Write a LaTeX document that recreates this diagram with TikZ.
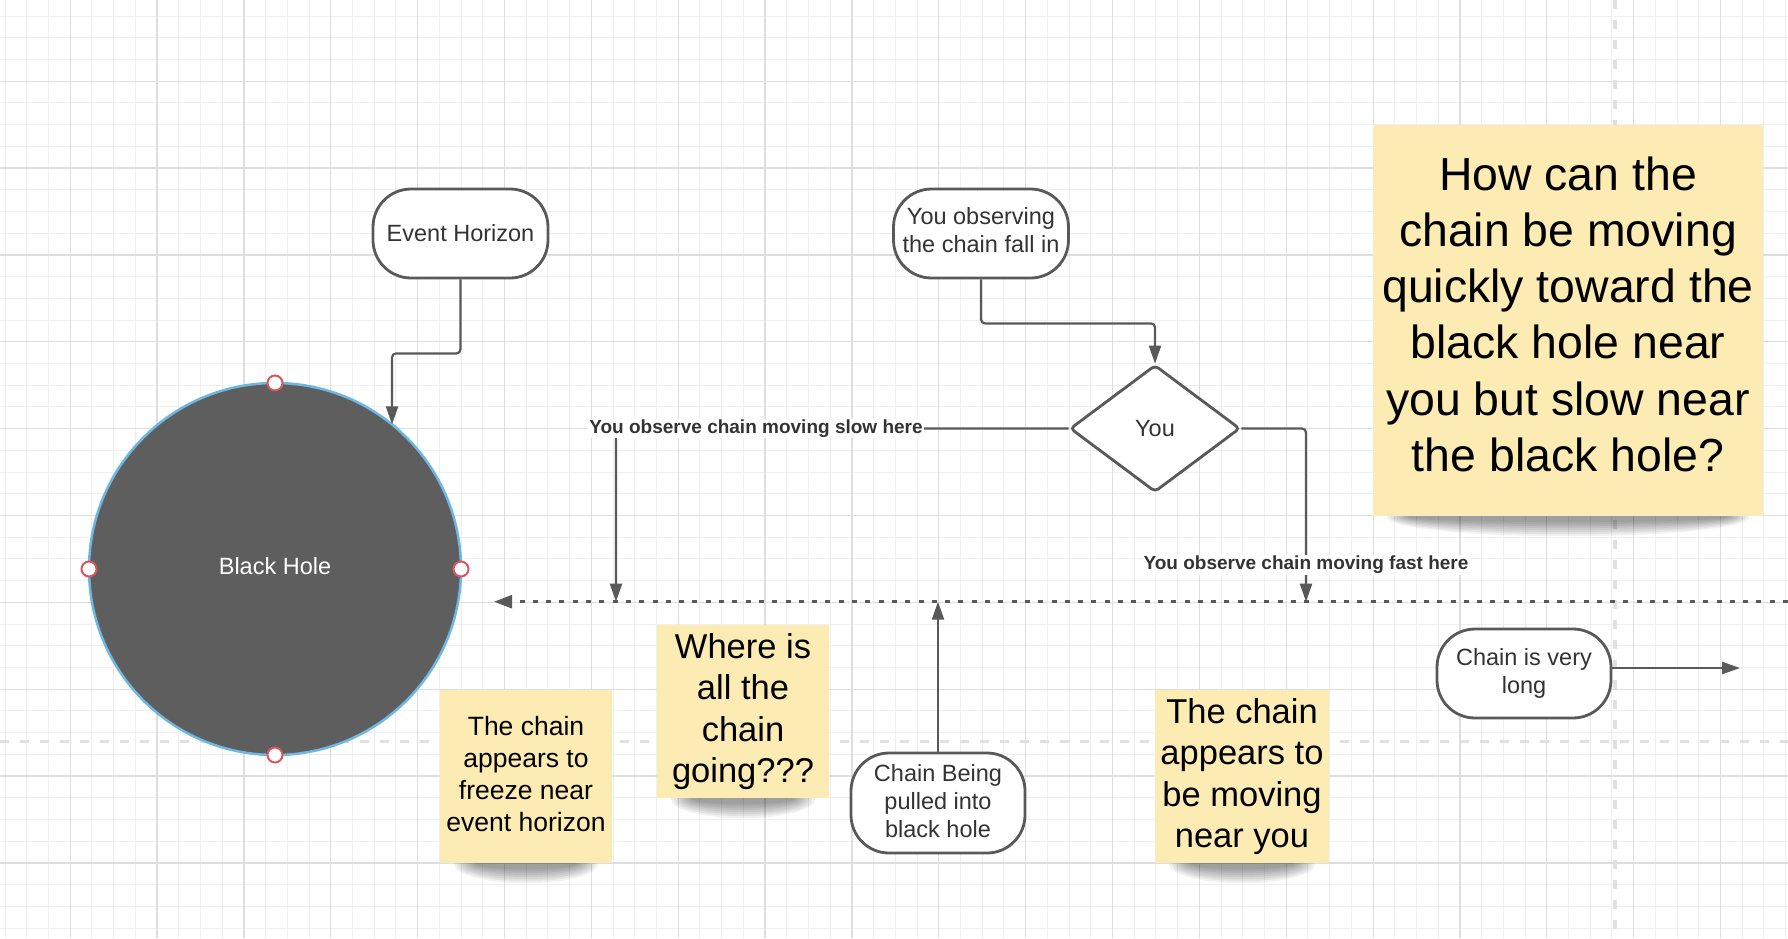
\documentclass[tikz,border=0pt]{standalone}
\usepackage{fontspec}
\setmainfont{Liberation Sans}
\usetikzlibrary{arrows.meta,positioning,calc,shapes.geometric}

\definecolor{gridlight}{HTML}{EFEFEF}
\definecolor{griddark}{HTML}{DEDEDE}
\definecolor{pagebreak}{HTML}{E0E0E0}
\definecolor{linegray}{HTML}{595959}
\definecolor{textgray}{HTML}{333333}
\definecolor{holefill}{HTML}{5E5E5E}
\definecolor{holeedge}{HTML}{6DB7E0}
\definecolor{handlered}{HTML}{D9565E}
\definecolor{stickyyellow}{HTML}{FCEBB3}

\newcommand{\pxfont}[2]{\fontsize{#1}{#2}\selectfont}
% soft shadow under a sticky note: node name, half width
\newcommand{\stickyshadow}[2]{%
  \foreach \k in {0,...,7}
    \fill[black, opacity=0.055] ([yshift=-1pt]#1.south) ellipse ({#2-14-3*\k} and {19-2*\k});
}

\pgfdeclarelayer{gridlayer}
\pgfdeclarelayer{shadowlayer}
\pgfsetlayers{gridlayer,shadowlayer,main}

\tikzset{
  minorline/.style={draw=gridlight, line width=1pt},
  majorline/.style={draw=griddark, line width=1.2pt},
  breakline/.style={draw=pagebreak, line width=3.3pt, dash pattern=on 9pt off 11pt},
  terminal/.style={draw=linegray, line width=2.8pt, rounded corners=38pt, fill=white,
    minimum width=175pt, minimum height=89pt, inner sep=0pt, align=center,
    text=textgray, font=\pxfont{23.5}{28}},
  decision/.style={diamond, draw=linegray, line width=2.8pt, rounded corners=4pt, fill=white,
    minimum width=170pt, minimum height=127pt, inner sep=0pt,
    text=textgray, font=\pxfont{23.5}{28}},
  blackhole/.style={circle, draw=holeedge, line width=2.5pt, fill=holefill, outer sep=0pt,
    minimum size=372pt, inner sep=0pt, text=white, font=\pxfont{23.5}{28}},
  handle/.style={draw=handlered, fill=white, line width=2pt},
  sticky/.style={fill=stickyyellow, inner sep=0pt, align=center, text=black},
  connector/.style={draw=linegray, line width=2.2pt, rounded corners=4pt,
    -{Triangle[length=18pt,width=12pt]}},
  chainline/.style={draw=linegray, line width=2.5pt, dash pattern=on 5pt off 8.3pt,
    -{Triangle[length=18pt,width=13pt]}},
  linelabel/.style={fill=white, inner sep=1pt, text=textgray, font=\bfseries\pxfont{19}{22}},
}

\begin{document}
\begin{tikzpicture}[x=1pt,y=-1pt]
    \useasboundingbox (0,0) rectangle (1788,938);

    % grid paper
    \begin{pgfonlayer}{gridlayer}
        \fill[white] (0,0) rectangle (1788,938);
        \foreach \i in {0,...,82}
            \draw[minorline] ({5+21.715*\i},0) -- ({5+21.715*\i},938);
        \foreach \i in {0,...,42}
            \draw[minorline] (0,{16+21.715*\i}) -- (1788,{16+21.715*\i});
        \foreach \i in {0,...,19}
            \draw[majorline] ({70.2+86.86*\i},0) -- ({70.2+86.86*\i},938);
        \foreach \i in {0,...,9}
            \draw[majorline] (0,{81.2+86.86*\i}) -- (1788,{81.2+86.86*\i});
        % page breaks
        \draw[breakline] (0,741.7) -- (1788,741.7);
        \draw[breakline] (1615,0) -- (1615,938);
    \end{pgfonlayer}

    % black hole
    \node[blackhole] (bh) at (275,569) {Black Hole\rule[-7pt]{0pt}{0pt}};
    \foreach \a in {north,east,south,west}
        \draw[handle] (bh.\a) circle (7.5);

    % flow nodes
    \node[terminal] (eh) at (460.5,233.5) {Event Horizon};
    \node[terminal] (obs) at (981,233.5) {You observing\\the chain fall in\rule[-8pt]{0pt}{0pt}};
    \node[decision] (you) at (1155,428.5) {You};
    \node[terminal, minimum width=174pt, minimum height=100pt] (pull) at (938,803)
        {Chain Being\\pulled into\\black hole\rule[-4pt]{0pt}{0pt}};
    \node[terminal, minimum width=174pt] (long) at (1524,673.5) {Chain is very\\long};

    % sticky notes
    \node[sticky, minimum width=172.5pt, minimum height=173pt, font=\pxfont{26.5}{32}]
        (freeze) at (526,776.5) {The chain\\appears to\\freeze near\\event horizon\rule[-5pt]{0pt}{0pt}};
    \node[sticky, minimum width=172.5pt, minimum height=173pt, font=\pxfont{34.5}{41.5}]
        (where) at (743,711.5) {Where is\\all the\\chain\\going???};
    \node[sticky, minimum width=174pt, minimum height=173pt, font=\pxfont{34.5}{41.5}]
        (nearyou) at (1242,776.5) {The chain\\appears to\\be moving\\near you};
    \node[sticky, minimum width=390pt, minimum height=391pt, font=\pxfont{46.4}{56.2}]
        (howcan) at (1568,320.5) {How can the\\chain be moving\\quickly toward the\\black hole near\\you but slow near\\the black hole?\rule[-13pt]{0pt}{0pt}};

    \begin{pgfonlayer}{shadowlayer}
        \stickyshadow{freeze}{86}
        \stickyshadow{where}{86}
        \stickyshadow{nearyou}{87}
        \stickyshadow{howcan}{195}
    \end{pgfonlayer}

    % the chain
    \coordinate (chainfar) at (1788,601.7);
    \coordinate (chainnear) at (494,601.7);
    \coordinate (slowend) at (616,601.7);
    \coordinate (fastend) at (1306,601.7);
    \coordinate (longend) at (1740,668);
    \draw[chainline] (chainfar) -- (chainnear);

    % connectors
    \draw[connector] (eh.south) -- ++(0,74) -| (bh.51);
    \draw[connector] (obs.south) -- ++(0,44) -| (you.north);
    \draw[connector] (you.west) -| (slowend);
    \draw[connector] (you.east) -| (fastend);
    \draw[connector] (pull.north) -- (pull.north |- chainnear);
    \draw[connector] ([yshift=5.5pt]long.east) -- (longend);

    \node[linelabel] (slowlbl) at (756,428.5) {You observe chain moving slow here};
    \node[linelabel] (fastlbl) at (1306,565) {You observe chain moving fast here};
\end{tikzpicture}
\end{document}
